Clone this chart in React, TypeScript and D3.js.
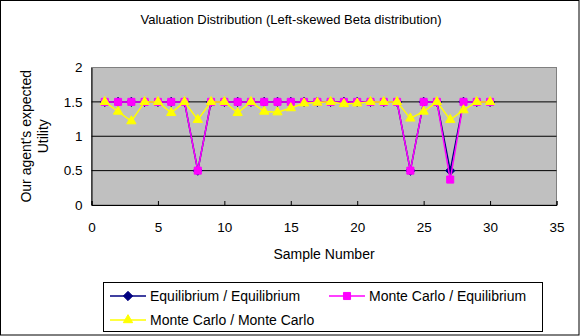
import React, { useEffect, useRef } from 'react';
import * as d3 from 'd3';

const samples = d3.range(1, 31);
const eqEq = [
  1.5, 1.5, 1.5, 1.5, 1.5, 1.5, 1.5, 0.5, 1.5, 1.5,
  1.5, 1.5, 1.5, 1.5, 1.5, 1.5, 1.5, 1.5, 1.5, 1.5,
  1.5, 1.5, 1.5, 0.5, 1.5, 1.5, 0.5, 1.5, 1.5, 1.5,
];
const mcEq = [
  1.5, 1.5, 1.5, 1.5, 1.5, 1.5, 1.5, 0.5, 1.5, 1.5,
  1.5, 1.5, 1.5, 1.5, 1.5, 1.5, 1.5, 1.5, 1.5, 1.5,
  1.5, 1.5, 1.5, 0.5, 1.5, 1.5, 0.37, 1.5, 1.5, 1.5,
];
const mcMc = [
  1.5, 1.36, 1.22, 1.5, 1.5, 1.34, 1.5, 1.24, 1.5, 1.5,
  1.34, 1.5, 1.36, 1.35, 1.41, 1.48, 1.49, 1.5, 1.47, 1.48,
  1.5, 1.5, 1.5, 1.26, 1.36, 1.5, 1.24, 1.38, 1.5, 1.5,
];
const xTicks = [0, 5, 10, 15, 20, 25, 30, 35];
const yTicks = [0, 0.5, 1, 1.5, 2];

const seriesList = [
  { name: 'Equilibrium / Equilibrium', values: eqEq, color: '#000080', marker: 'diamond' },
  { name: 'Monte Carlo / Equilibrium', values: mcEq, color: '#FF00FF', marker: 'square' },
  { name: 'Monte Carlo / Monte Carlo', values: mcMc, color: '#FFFF00', marker: 'triangle' },
];

const font = 'Liberation Sans, Arial, sans-serif';

export default function App() {
  const ref = useRef<SVGSVGElement>(null);

  useEffect(() => {
    if (!ref.current) return;
    const svg = d3.select(ref.current);
    svg.selectAll('*').remove();

    const width = 582;
    const height = 336;
    const margin = { top: 67.5, right: 25.5, bottom: 131, left: 91.5 };

    const x = d3.scaleLinear().domain([0, 35]).range([margin.left, width - margin.right]);
    const y = d3.scaleLinear().domain([0, 2]).range([height - margin.bottom, margin.top]);

    const symbolFor = (m: string) =>
      m === 'diamond' ? d3.symbol(d3.symbolDiamond2, 55)
        : m === 'square' ? d3.symbol(d3.symbolSquare, 50)
        : d3.symbol(d3.symbolTriangle2, 62);

    // outer frame
    svg.append('rect')
      .attr('x', 0.5).attr('y', 0.5)
      .attr('width', 578.5).attr('height', 334.5)
      .attr('fill', '#fff')
      .attr('stroke', '#000')
      .attr('stroke-width', 1);

    // plot background
    svg.append('rect')
      .attr('x', x(0)).attr('y', y(2))
      .attr('width', x(35) - x(0)).attr('height', y(0) - y(2))
      .attr('fill', '#C0C0C0')
      .attr('stroke', '#808080')
      .attr('stroke-width', 1);

    // grid lines
    svg.append('g')
      .selectAll('line')
      .data(yTicks.filter(t => t > 0 && t < 2))
      .enter()
      .append('line')
      .attr('x1', x(0)).attr('x2', x(35))
      .attr('y1', d => y(d)).attr('y2', d => y(d))
      .attr('stroke', '#000')
      .attr('stroke-width', 1);

    // X-axis
    const xAxis = svg.append('g')
      .attr('transform', `translate(0,${y(0)})`)
      .call(d3.axisBottom(x).tickValues(xTicks).tickSize(-4).tickPadding(17).tickFormat(d3.format('d')));
    xAxis.select('.domain').attr('stroke', '#000');
    xAxis.selectAll('text').attr('font-size', '13.5px').attr('font-family', font).attr('fill', '#000');

    // Y-axis
    const yAxis = svg.append('g')
      .attr('transform', `translate(${x(0)},0)`)
      .call(d3.axisLeft(y).tickValues(yTicks).tickSize(0).tickPadding(9).tickFormat(d => String(d)));
    yAxis.select('.domain').attr('stroke', '#000');
    yAxis.selectAll('text').attr('font-size', '13.5px').attr('font-family', font).attr('fill', '#000');

    // series
    seriesList.forEach(s => {
      const pts = samples.map((v, i) => ({ n: v, val: s.values[i] }));
      const line = d3.line<{ n: number; val: number }>()
        .x(d => x(d.n))
        .y(d => y(d.val));
      svg.append('path')
        .datum(pts)
        .attr('fill', 'none')
        .attr('stroke', s.color)
        .attr('stroke-width', 1.5)
        .attr('d', line);
      svg.append('g')
        .selectAll('path')
        .data(pts)
        .enter()
        .append('path')
        .attr('transform', d => `translate(${x(d.n)},${y(d.val)})`)
        .attr('d', symbolFor(s.marker)())
        .attr('fill', s.color)
        .attr('stroke', s.color)
        .attr('stroke-width', 1);
    });

    // titles
    svg.append('text')
      .attr('x', 291).attr('y', 24)
      .attr('text-anchor', 'middle')
      .attr('font-size', '13px')
      .attr('font-family', font)
      .text('Valuation Distribution (Left-skewed Beta distribution)');

    svg.append('text')
      .attr('x', (x(0) + x(35)) / 2).attr('y', 259)
      .attr('text-anchor', 'middle')
      .attr('font-size', '14px')
      .attr('font-family', font)
      .text('Sample Number');

    const yl = svg.append('text')
      .attr('transform', `translate(31,${(y(0) + y(2)) / 2}) rotate(-90)`)
      .attr('text-anchor', 'middle')
      .attr('font-size', '14px')
      .attr('font-family', font);
    yl.append('tspan').attr('x', 0).attr('dy', 0).text("Our agent's expected");
    yl.append('tspan').attr('x', 0).attr('dy', 17).text('Utility');

    // legend
    svg.append('rect')
      .attr('x', 103.5).attr('y', 282.5)
      .attr('width', 439).attr('height', 49)
      .attr('fill', '#fff')
      .attr('stroke', '#000')
      .attr('stroke-width', 1);

    const legendPos = [
      { lx: 110, ty: 296 },
      { lx: 329, ty: 296 },
      { lx: 110, ty: 320 },
    ];
    seriesList.forEach((s, i) => {
      const p = legendPos[i];
      const g = svg.append('g');
      g.append('line')
        .attr('x1', p.lx).attr('x2', p.lx + 36)
        .attr('y1', p.ty).attr('y2', p.ty)
        .attr('stroke', s.color)
        .attr('stroke-width', 1.5);
      g.append('path')
        .attr('transform', `translate(${p.lx + 18},${p.ty})`)
        .attr('d', symbolFor(s.marker)())
        .attr('fill', s.color)
        .attr('stroke', s.color);
      g.append('text')
        .attr('x', p.lx + 40).attr('y', p.ty + 5)
        .attr('font-size', '14px')
        .attr('font-family', font)
        .text(s.name);
    });
  }, []);

  return (
    <div style={{ position: 'absolute', left: 0, top: 0, width: 582, height: 336 }}>
      <svg ref={ref} width={582} height={336} style={{ display: 'block' }} />
    </div>
  );
}
